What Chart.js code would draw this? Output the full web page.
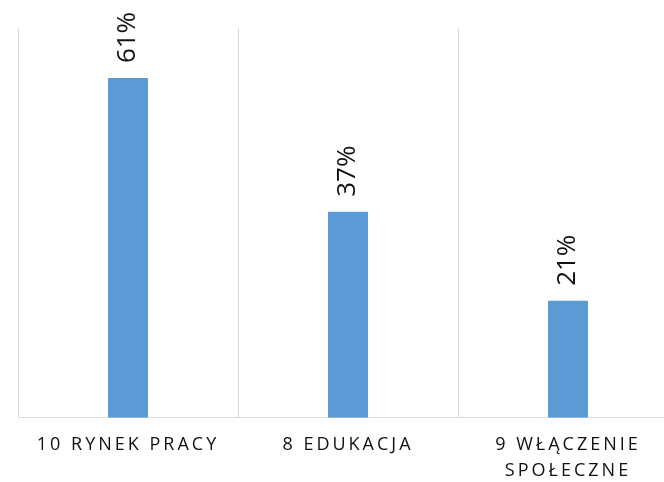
<!DOCTYPE html>
<html>
<head>
<meta charset="utf-8">
<script src="https://cdn.jsdelivr.net/npm/chart.js@4/dist/chart.umd.min.js"></script>
<style>
  html, body { margin: 0; padding: 0; background: #fff; overflow: hidden; }
  #wrap { width: 664px; height: 482px; overflow: hidden; }
</style>
</head>
<body>
<div id="wrap"><canvas id="chart" width="680" height="482"></canvas></div>
<script>
var categories = ['10 RYNEK PRACY', '8 EDUKACJA', ['9 WŁĄCZENIE', 'SPOŁECZNE']];
var values = [61, 37, 21];

// labels above the bars, turned upright
var barLabels = {
    id: 'barLabels',
    beforeDraw: function(chart){
        chart.ctx.letterSpacing = '3px';
    },
    beforeDatasetsDraw: function(chart){
        chart.ctx.letterSpacing = '0px';
    },
    afterDatasetsDraw: function(chart){
        var ctx = chart.ctx;
        chart.getDatasetMeta(0).data.forEach(function(bar, i){
            ctx.save();
            ctx.translate(bar.x, bar.y - 15);
            ctx.rotate(-Math.PI / 2);
            ctx.font = '26px "Open Sans"';
            ctx.fillStyle = '#111';
            ctx.textAlign = 'left';
            ctx.textBaseline = 'middle';
            ctx.fillText(values[i] + '%', 0, 0);
            ctx.restore();
        });
    }
};

var chart = new Chart(document.getElementById('chart'), {
    type: 'bar',
    data: {
        labels: categories,
        datasets: [{
            data: values,
            backgroundColor: '#5b9bd5',
            borderWidth: 0,
            barPercentage: 0.182,
            categoryPercentage: 1
        }]
    },
    options: {
        responsive: false,
        animation: false,
        layout: { padding: { left: 18, top: 28, right: 2, bottom: -16 } },
        plugins: { legend: { display: false }, tooltip: { enabled: false } },
        scales: {
            x: {
                grid: { color: '#d9d9d9', drawTicks: false, offset: true },
                border: { color: '#d9d9d9' },
                ticks: {
                    color: '#111',
                    font: { family: '"Open Sans"', size: 18, lineHeight: 1.45 },
                    padding: 14,
                    maxRotation: 0,
                    autoSkip: false
                }
            },
            y: { display: false, min: 0, max: 70 }
        }
    },
    plugins: [barLabels]
});
</script>
</body>
</html>
